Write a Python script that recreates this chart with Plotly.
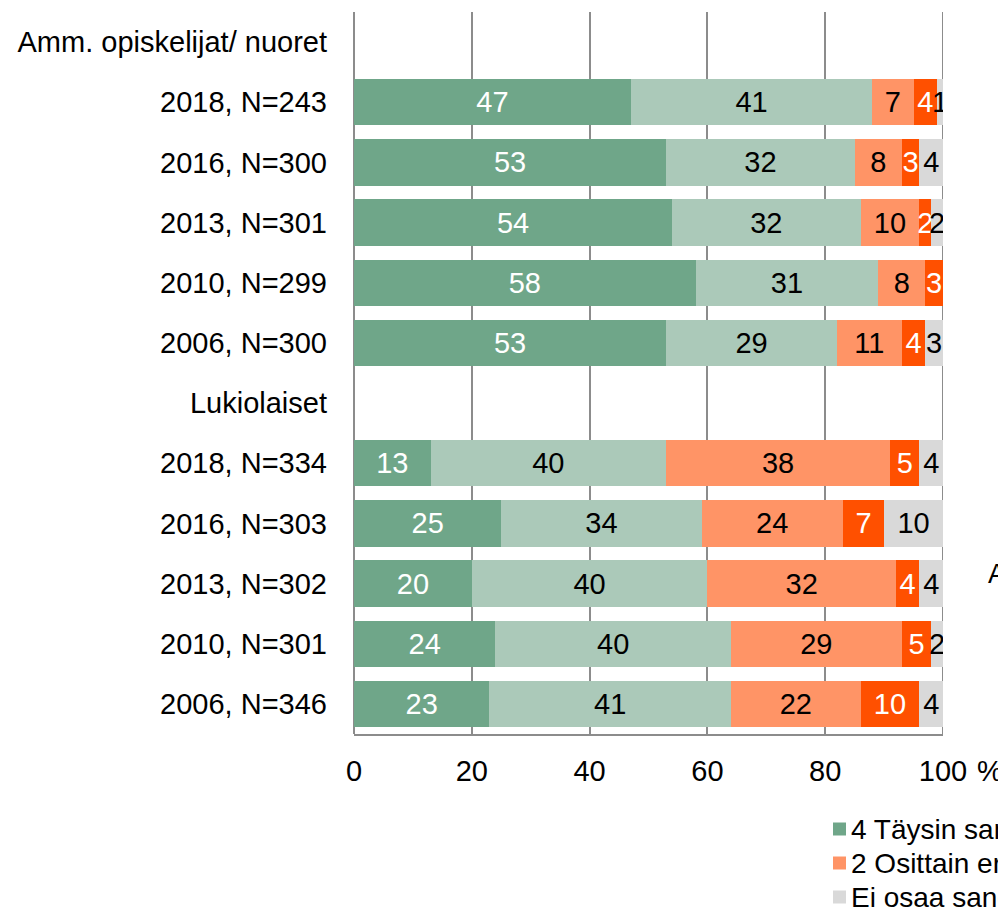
import plotly.graph_objects as go

rows = [
    "Amm. opiskelijat/ nuoret",
    "2018, N=243", "2016, N=300", "2013, N=301", "2010, N=299", "2006, N=300",
    "Lukiolaiset",
    "2018, N=334", "2016, N=303", "2013, N=302", "2010, N=301", "2006, N=346",
]
row_ids = [f"r{i}" for i in range(len(rows))]

taysin_samaa = [None, 47, 53, 54, 58, 53, None, 13, 25, 20, 24, 23]
osittain_samaa = [None, 41, 32, 32, 31, 29, None, 40, 34, 40, 40, 41]
osittain_eri = [None, 7, 8, 10, 8, 11, None, 38, 24, 32, 29, 22]
taysin_eri = [None, 4, 3, 2, 3, 4, None, 5, 7, 4, 5, 10]
ei_osaa = [None, 1, 4, 2, None, 3, None, 4, 10, 4, 2, 4]

series = [
    ("4 Täysin samaa mieltä", taysin_samaa, "#6fa689", "white"),
    ("3 Osittain samaa mieltä", osittain_samaa, "#abc9b9", "black"),
    ("2 Osittain eri mieltä", osittain_eri, "#ff9466", "black"),
    ("1 Täysin eri mieltä", taysin_eri, "#ff5000", "white"),
    ("Ei osaa sanoa", ei_osaa, "#d9d9d9", "black"),
]

x_ticks = [0, 20, 40, 60, 80, 100]
font = "Liberation Sans, Arial, sans-serif"

# plot area in page pixels (page has an 8px body margin)
PX0, PX1, PY0, PY1 = 354, 943, 12, 734


def px(x):
    return (x - PX0) / (PX1 - PX0)


def py(y):
    return (PY1 - y) / (PY1 - PY0)


fig = go.Figure()
for name, vals, color, txtcolor in series:
    fig.add_trace(
        go.Bar(
            y=row_ids,
            x=vals,
            orientation="h",
            name=name,
            marker=dict(color=color, line=dict(width=0)),
            text=[("" if v is None else str(v)) for v in vals],
            textposition="inside",
            insidetextanchor="middle",
            textangle=0,
            constraintext="none",
            textfont=dict(family=font, size=29, color=txtcolor),
            showlegend=False,
        )
    )

# right border line at 100 %
fig.add_shape(
    type="line", xref="x", yref="paper",
    x0=100, x1=100, y0=0, y1=1,
    line=dict(color="#8c8c8c", width=2), layer="below",
)

# legend drawn by hand (cut off at the right edge like the original)
legend_items = [series[0], series[2], series[4]]
for i, (name, vals, color, txtcolor) in enumerate(legend_items):
    yc = 829 + i * 34
    fig.add_shape(
        type="rect", xref="paper", yref="paper",
        x0=px(833), x1=px(846),
        y0=py(yc + 6.5), y1=py(yc - 6.5),
        fillcolor=color, line=dict(width=0),
    )
    fig.add_annotation(
        xref="paper", yref="paper",
        x=px(849), y=py(yc),
        xanchor="left", yanchor="middle",
        text=name, showarrow=False,
        font=dict(family=font, size=28, color="black"),
    )

fig.add_annotation(
    xref="paper", yref="paper",
    x=px(986), y=py(574),
    xanchor="left", yanchor="middle",
    text="Amm.", showarrow=False,
    font=dict(family=font, size=27, color="black"),
)
fig.add_annotation(
    xref="paper", yref="paper",
    x=px(975), y=py(771),
    xanchor="left", yanchor="middle",
    text="%", showarrow=False,
    font=dict(family=font, size=29, color="black"),
)

fig.update_layout(
    barmode="stack",
    bargap=0.23,
    width=1006,
    height=910,
    margin=dict(l=PX0 - 8, r=1006 + 8 - PX1, t=PY0 - 8, b=910 + 8 - PY1),
    paper_bgcolor="white",
    plot_bgcolor="white",
    font=dict(family=font, size=29, color="black"),
)
fig.update_xaxes(
    range=[0, 100],
    tickvals=x_ticks,
    ticktext=[str(t) for t in x_ticks],
    showgrid=True,
    gridcolor="#8c8c8c",
    gridwidth=2,
    zeroline=True,
    zerolinecolor="#8c8c8c",
    zerolinewidth=2,
    showline=True,
    linecolor="#8c8c8c",
    linewidth=2,
    ticks="",
    ticklabelstandoff=10,
    tickfont=dict(family=font, size=29, color="black"),
)
fig.update_yaxes(
    type="category",
    categoryorder="array",
    categoryarray=row_ids,
    tickvals=row_ids,
    ticktext=rows,
    autorange="reversed",
    showgrid=False,
    ticks="",
    ticklabelstandoff=26,
    tickfont=dict(family=font, size=29, color="black"),
)

fig.write_html("out.html")
